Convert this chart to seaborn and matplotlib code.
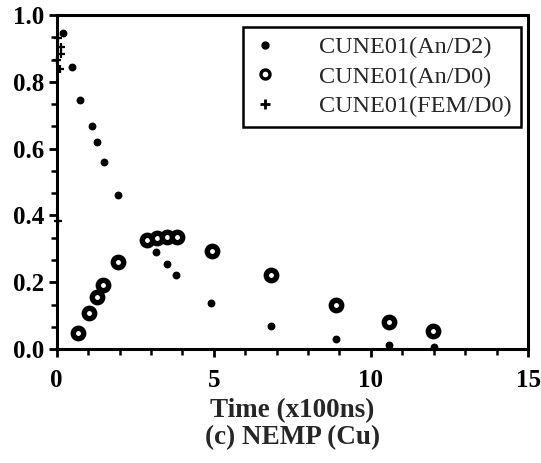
import matplotlib
matplotlib.use("Agg")
import matplotlib.pyplot as plt
from matplotlib.lines import Line2D
from matplotlib.ticker import MultipleLocator, AutoMinorLocator
import seaborn as sns
import pandas as pd

# Normalised signal versus time (units of 100 ns)
an_d2_time = [0.2, 0.48, 0.74, 1.12, 1.28, 1.51, 1.95, 3.16, 3.50, 3.79, 4.90, 6.82, 8.89, 10.58, 12.0]
an_d2_value = [0.945, 0.845, 0.745, 0.668, 0.62, 0.56, 0.46, 0.291, 0.254, 0.222, 0.139, 0.07, 0.031, 0.012, 0.007]

an_d0_time = [0.69, 1.04, 1.27, 1.48, 1.96, 2.87, 3.18, 3.50, 3.82, 4.94, 6.82, 8.89, 10.56, 11.99]
an_d0_value = [0.047, 0.109, 0.155, 0.192, 0.261, 0.328, 0.334, 0.336, 0.336, 0.294, 0.222, 0.132, 0.082, 0.054]

fem_d0_time = [0.05, 0.15, 0.15, 0.0, 0.1, 0.05]
fem_d0_value = [0.93, 0.905, 0.885, 0.865, 0.84, 0.385]

series_labels = ["CUNE01(An/D2)", "CUNE01(An/D0)", "CUNE01(FEM/D0)"]
x_ticks = [0, 5, 10, 15]
y_ticks = [0.0, 0.2, 0.4, 0.6, 0.8, 1.0]

sns.set_style("ticks")
plt.rcParams["font.family"] = ["Liberation Serif", "DejaVu Serif"]

df_d2 = pd.DataFrame({"t": an_d2_time, "v": an_d2_value})
df_d0 = pd.DataFrame({"t": an_d0_time, "v": an_d0_value})
df_fem = pd.DataFrame({"t": fem_d0_time, "v": fem_d0_value})

fig = plt.figure(figsize=(5.41, 4.63), dpi=100)
ax = fig.add_axes([0.1048, 0.246, 0.8712, 0.7214])

sns.scatterplot(data=df_fem, x="t", y="v", ax=ax, marker="+", s=40,
                color="black", linewidth=1.6, zorder=3, clip_on=False)
sns.scatterplot(data=df_d0, x="t", y="v", ax=ax, marker="o", s=56,
                facecolor="white", edgecolor="black", linewidth=3.9,
                zorder=4, clip_on=False)
sns.scatterplot(data=df_d2, x="t", y="v", ax=ax, marker="o", s=32,
                color="black", linewidth=0, zorder=5, clip_on=False)

ax.set_xlim(0, 15)
ax.set_ylim(0, 1.0)
ax.set_xticks(x_ticks)
ax.set_yticks(y_ticks)
ax.set_xticklabels([str(t) for t in x_ticks])
ax.set_yticklabels([f"{t:.1f}" for t in y_ticks])
ax.xaxis.set_minor_locator(MultipleLocator(1))
ax.yaxis.set_minor_locator(AutoMinorLocator(3))

for side in ["left", "right", "top", "bottom"]:
    ax.spines[side].set_visible(True)
    ax.spines[side].set_linewidth(2.2)
    ax.spines[side].set_color("black")

ax.tick_params(axis="both", which="major", direction="out", length=6, width=2,
               colors="black", labelsize=18)
ax.tick_params(axis="x", which="major", pad=8)
ax.tick_params(axis="y", which="major", pad=3)
ax.tick_params(axis="both", which="minor", direction="out", length=4, width=1.8,
               colors="black")
for lab in ax.get_xticklabels() + ax.get_yticklabels():
    lab.set_fontweight("bold")

ax.set_xlabel("Time (x100ns)\n(c) NEMP (Cu)", fontsize=19.5, fontweight="bold",
              labelpad=5, linespacing=1.1)
ax.set_ylabel("")

handles = [
    Line2D([], [], linestyle="none", marker="o", markersize=5,
           markerfacecolor="black", markeredgecolor="black"),
    Line2D([], [], linestyle="none", marker="o", markersize=6.5,
           markerfacecolor="white", markeredgecolor="black", markeredgewidth=2.4),
    Line2D([], [], linestyle="none", marker="+", markersize=7,
           markeredgecolor="black", markeredgewidth=2.0),
]
leg = ax.legend(handles, series_labels, loc="upper right",
                bbox_to_anchor=(0.985, 0.965), prop={"size": 17.5},
                frameon=True, fancybox=False, edgecolor="black",
                handlelength=1.0, handletextpad=1.7, labelspacing=0.3,
                borderpad=0.4, borderaxespad=0.0)
leg.get_frame().set_linewidth(1.8)
leg.get_frame().set_alpha(1.0)

fig.savefig("out.png", dpi=100, facecolor="white")
